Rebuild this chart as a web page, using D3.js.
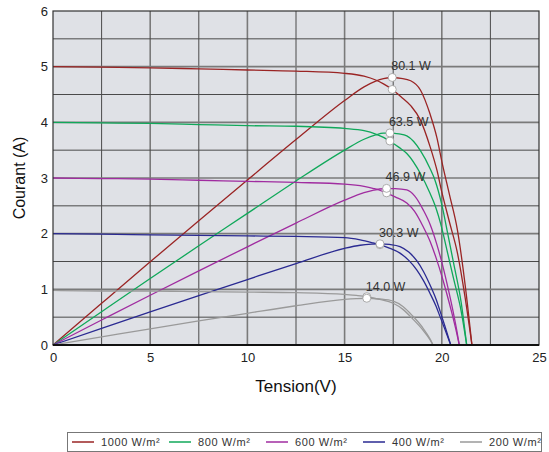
<!DOCTYPE html>
<html>
<head>
<meta charset="utf-8">
<script src="https://cdn.jsdelivr.net/npm/d3@7"></script>
<style>
  body { margin: 0; background: #fff; }
  text { font-family: "Liberation Sans", Arial, sans-serif; }
</style>
</head>
<body>
<div id="chart"></div>
<script>
// irradiance series
var labels = ["1000 W/m\u00b2", "800 W/m\u00b2", "600 W/m\u00b2", "400 W/m\u00b2", "200 W/m\u00b2"];
var colors = ["#9a2424", "#10a85a", "#a02ca0", "#2a2a92", "#9a9a9a"];

// I-V curves (V in volts, I in amps)
var volt1000 = [0, 2.5, 5, 7.5, 10, 12.5, 15, 16, 16.6, 17, 17.45, 17.9, 18.4, 18.9, 19.4, 19.75, 20, 20.4, 20.8, 21.2, 21.55];
var amp1000  = [5.00, 4.99, 4.98, 4.96, 4.94, 4.92, 4.88, 4.83, 4.76, 4.69, 4.59, 4.46, 4.30, 4.04, 3.56, 3.14, 2.75, 2.2, 1.66, 0.85, 0];
var volt800 = [0, 2.5, 5, 7.5, 10, 12.5, 15, 16, 16.6, 17, 17.33, 17.8, 18.2, 18.9, 19.4, 19.65, 20, 20.3, 20.6, 21.0, 21.28];
var amp800  = [4.00, 3.99, 3.98, 3.96, 3.94, 3.93, 3.89, 3.85, 3.79, 3.73, 3.66, 3.55, 3.44, 3.08, 2.72, 2.51, 2.1, 1.65, 1.2, 0.6, 0];
var volt600 = [0, 2.5, 5, 7.5, 10, 12.5, 15, 16, 16.5, 16.8, 17.16, 17.6, 18.2, 18.6, 19.05, 19.4, 19.74, 20.0, 20.25, 20.5, 20.77, 20.9];
var amp600  = [3.00, 2.99, 2.98, 2.96, 2.94, 2.92, 2.89, 2.85, 2.81, 2.78, 2.73, 2.66, 2.55, 2.40, 2.12, 1.86, 1.53, 1.24, 0.93, 0.6, 0.21, 0];
var volt400 = [0, 2.5, 5, 7.5, 10, 12.5, 15, 15.8, 16.4, 16.82, 17.3, 17.85, 18.3, 18.71, 19.05, 19.39, 19.7, 19.91, 20.15, 20.46];
var amp400  = [2.00, 1.99, 1.98, 1.97, 1.96, 1.95, 1.93, 1.89, 1.84, 1.80, 1.74, 1.65, 1.52, 1.35, 1.16, 0.93, 0.70, 0.51, 0.29, 0];
var volt200 = [0, 2.5, 5, 7.5, 10, 12.5, 15, 15.6, 16.14, 16.8, 17.5, 18.0, 18.5, 19.0, 19.4, 19.55];
var amp200  = [0.98, 0.97, 0.97, 0.96, 0.95, 0.94, 0.91, 0.89, 0.867, 0.82, 0.75, 0.64, 0.47, 0.28, 0.09, 0];

// maximum power points
var pmax = [80.1, 63.5, 46.9, 30.3, 14.0];
var vmp = [17.45, 17.33, 17.16, 16.82, 16.14];

var xTicks = [0, 5, 10, 15, 20, 25];
var yTicks = [0, 1, 2, 3, 4, 5, 6];
var powerFull = 100; // 100 W drawn at 6 A

var volts = [volt1000, volt800, volt600, volt400, volt200];
var amps = [amp1000, amp800, amp600, amp400, amp200];

var W = 549, H = 452;
var svg = d3.select("#chart").append("svg").attr("width", W).attr("height", H);

var x = d3.scaleLinear().domain([0, 25]).range([53, 539]);
var y = d3.scaleLinear().domain([0, 6]).range([345, 11]);

svg.append("rect")
    .attr("x", x(0)).attr("y", y(6))
    .attr("width", x(25) - x(0)).attr("height", y(0) - y(6))
    .attr("fill", "#dfe1e6");

// grid
var g = svg.append("g");
d3.range(1, 10).forEach(function(i) {
    var v = i * 2.5;
    g.append("line")
        .attr("x1", x(v)).attr("x2", x(v)).attr("y1", y(0)).attr("y2", y(6))
        .attr("stroke", i % 2 == 0 ? "#7a7a7a" : "#4a4a4a")
        .attr("stroke-width", i % 2 == 0 ? 1.6 : 1);
});
d3.range(1, 12).forEach(function(i) {
    var v = i * 0.5;
    g.append("line")
        .attr("x1", x(0)).attr("x2", x(25)).attr("y1", y(v)).attr("y2", y(v))
        .attr("stroke", i % 2 == 0 ? "#7a7a7a" : "#4a4a4a")
        .attr("stroke-width", i % 2 == 0 ? 1.6 : 1);
});

// curves
var line = d3.line().x(d => x(d[0])).y(d => y(d[1])).curve(d3.curveMonotoneX);

volts.forEach(function(vs, k) {
    var iv = vs.map((v, j) => [v, amps[k][j]]);
    var pv = vs.map((v, j) => [v, v * amps[k][j] * 6 / powerFull]);
    svg.append("path").attr("d", line(iv)).attr("fill", "none")
        .attr("stroke", colors[k]).attr("stroke-width", 1.3);
    svg.append("path").attr("d", line(pv)).attr("fill", "none")
        .attr("stroke", colors[k]).attr("stroke-width", 1.3);
});

// max power markers and labels
pmax.forEach(function(p, k) {
    var px = x(vmp[k]), py = y(p * 6 / powerFull), iy = y(p / vmp[k]);
    svg.append("circle").attr("cx", px).attr("cy", iy).attr("r", 4)
        .attr("fill", "#fff").attr("stroke", "#999").attr("stroke-width", 0.8);
    svg.append("circle").attr("cx", px).attr("cy", py).attr("r", 4)
        .attr("fill", "#fff").attr("stroke", "#999").attr("stroke-width", 0.8);
    svg.append("text").attr("x", px - 1).attr("y", py - 7)
        .attr("font-size", "12.5px").attr("fill", "#333")
        .text(p.toFixed(1) + " W");
});

// frame
svg.append("rect")
    .attr("x", x(0)).attr("y", y(6))
    .attr("width", x(25) - x(0)).attr("height", y(0) - y(6))
    .attr("fill", "none").attr("stroke", "#333").attr("stroke-width", 1.2);
svg.append("line").attr("x1", x(0)).attr("x2", x(25)).attr("y1", y(0)).attr("y2", y(0))
    .attr("stroke", "#111").attr("stroke-width", 2);

// axes
var xAxis = svg.append("g").attr("transform", `translate(0,${y(0)})`)
    .call(d3.axisBottom(x).tickValues(xTicks).tickFormat(d3.format("d")).tickSize(0).tickPadding(8));
var yAxis = svg.append("g").attr("transform", `translate(${x(0)},0)`)
    .call(d3.axisLeft(y).tickValues(yTicks).tickFormat(d3.format("d")).tickSize(0).tickPadding(5));
[xAxis, yAxis].forEach(function(a) {
    a.select(".domain").remove();
    a.selectAll("text").attr("font-size", "13px").attr("fill", "#222")
        .attr("font-family", "'Liberation Sans', Arial, sans-serif");
});

svg.append("text").attr("x", (x(0) + x(25)) / 2).attr("y", 392)
    .attr("text-anchor", "middle").attr("font-size", "17px").attr("fill", "#111")
    .text("Tension(V)");
svg.append("text").attr("transform", "rotate(-90)")
    .attr("x", -(y(0) + y(6)) / 2).attr("y", 25)
    .attr("text-anchor", "middle").attr("font-size", "16px").attr("fill", "#111")
    .text("Courant (A)");

// legend
var legend = svg.append("g");
legend.append("rect").attr("x", 67.5).attr("y", 432.5).attr("width", 474).attr("height", 19)
    .attr("fill", "#fff").attr("stroke", "#777").attr("stroke-width", 1);
labels.forEach(function(lab, k) {
    var lx = 72 + k * 97;
    legend.append("line").attr("x1", lx).attr("x2", lx + 22).attr("y1", 442).attr("y2", 442)
        .attr("stroke", colors[k]).attr("stroke-width", 1.5);
    legend.append("text").attr("x", lx + 29).attr("y", 446)
        .attr("font-size", "11px").attr("fill", "#333").attr("letter-spacing", "0.6px")
        .text(lab);
});
</script>
</body>
</html>
